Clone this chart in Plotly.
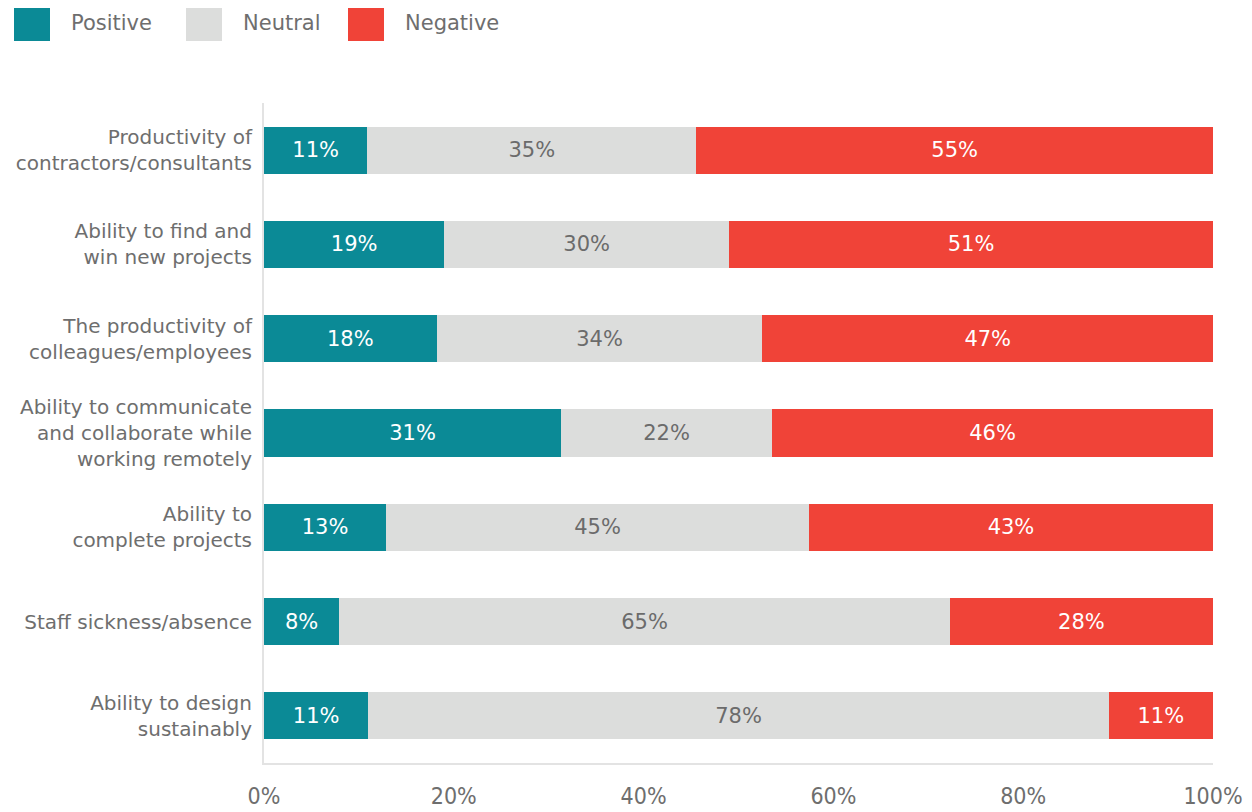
import plotly.graph_objects as go

categories = [
    "Productivity of<br>contractors/consultants",
    "Ability to find and<br>win new projects",
    "The productivity of<br>colleagues/employees",
    "Ability to communicate<br>and collaborate while<br>working remotely",
    "Ability to<br>complete projects",
    "Staff sickness/absence",
    "Ability to design<br>sustainably",
]
positive = [11, 19, 18, 31, 13, 8, 11]
neutral = [35, 30, 34, 22, 45, 65, 78]
negative = [55, 51, 47, 46, 43, 28, 11]
series_names = ["Positive", "Neutral", "Negative"]
x_ticks = [0, 20, 40, 60, 80, 100]
x_tick_labels = ["0%", "20%", "40%", "60%", "80%", "100%"]

colors = ["#0B8A96", "#DCDDDC", "#F04338"]
text_colors = ["#FFFFFF", "#6B6B6B", "#FFFFFF"]
label_font = "DejaVu Sans, Liberation Sans, sans-serif"
gray = "#6E6E6E"

# page-pixel geometry of the plot area (figure is offset 8px by body margin)
PL, PR, PT, PB = 264, 1213, 103, 763
OFF = 8

fig = go.Figure()
for name, vals, col, tcol in zip(series_names, [positive, neutral, negative], colors, text_colors):
    fig.add_trace(go.Bar(
        y=categories, x=vals, name=name, orientation="h",
        marker=dict(color=col, line=dict(width=0)),
        text=[f"{v}%" for v in vals], textposition="inside",
        insidetextanchor="middle", textangle=0,
        textfont=dict(color=tcol, size=21, family=label_font),
        width=0.5, showlegend=False, hoverinfo="skip",
    ))

fig.update_layout(
    barmode="stack", barnorm="percent",
    width=1252, height=812,
    margin=dict(l=PL - OFF, r=1252 - (PR - OFF), t=PT - OFF, b=812 - (PB - OFF)),
    paper_bgcolor="white", plot_bgcolor="white",
    uniformtext=dict(minsize=8, mode="show"),
    xaxis=dict(
        range=[0, 100], tickvals=x_ticks, ticktext=x_tick_labels,
        showgrid=False, zeroline=False, automargin=False,
        showline=True, linecolor="#E3E3E3", linewidth=2,
        ticks="outside", ticklen=11, tickcolor="rgba(0,0,0,0)",
        tickfont=dict(size=23, color=gray, family="DejaVu Sans Condensed, Liberation Sans, sans-serif"),
        fixedrange=True,
    ),
    yaxis=dict(
        showgrid=False, zeroline=False, automargin=False,
        showline=True, linecolor="#E3E3E3", linewidth=2,
        ticks="outside", ticklen=6, tickcolor="rgba(0,0,0,0)",
        tickfont=dict(size=20, color=gray, family=label_font),
        range=[6.5, -0.5],
    ),
)

# manual legend (page pixel positions converted to paper coords)
W, H = PR - PL, PB - PT
legend_x = [14, 186, 348]
for name, col, lx in zip(series_names, colors, legend_x):
    fig.add_shape(type="rect", xref="paper", yref="paper",
                  x0=(lx - PL) / W, x1=(lx + 36 - PL) / W,
                  y0=(PB - 41) / H, y1=(PB - 5) / H,
                  fillcolor=col, line=dict(width=0))
    fig.add_annotation(xref="paper", yref="paper",
                       x=(lx + 55 - PL) / W, y=(PB - 23) / H,
                       text=name, showarrow=False, xanchor="left", yanchor="middle",
                       font=dict(size=21, color=gray, family=label_font))

fig.write_html("out.html")
